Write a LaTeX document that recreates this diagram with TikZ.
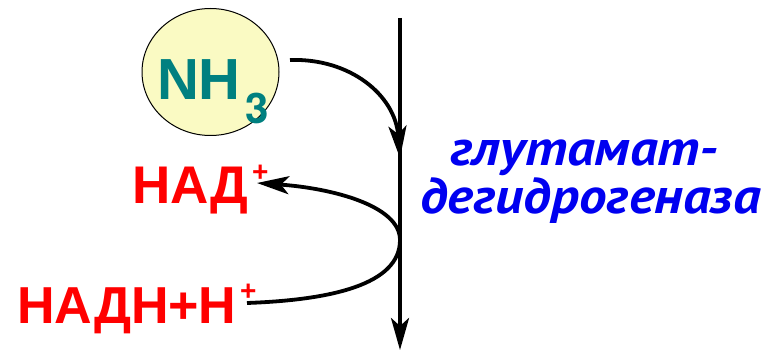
\documentclass[tikz,border=0pt]{standalone}
\usepackage{fontspec}
\setmainfont{Liberation Sans}
\newfontfamily\ptsans{PT Sans}
\newfontfamily\heros{TeX Gyre Heros}
\usetikzlibrary{arrows.meta,shapes.geometric}
\definecolor{nhteal}{RGB}{0,128,128}
\definecolor{nhfill}{RGB}{250,250,195}
\definecolor{nadred}{RGB}{255,0,0}
\definecolor{enzblue}{RGB}{0,0,240}
\tikzset{
  lbl/.style={inner sep=0pt, outer sep=0pt, anchor=base west},
  conn/.style={line width=3.8pt, -{Stealth[length=32pt,width=18pt,inset=8pt]}},
  enz/.style={lbl, text=enzblue, align=left, font=\ptsans\bfseries\itshape\fontsize{50}{38}\selectfont},
}
\begin{document}
\begin{tikzpicture}[x=1pt,y=-1pt]
\useasboundingbox (0,0) rectangle (771,350);
% NH3 ellipse
\node[draw=black, line width=1pt, fill=nhfill, ellipse, minimum width=137pt, minimum height=127pt, inner sep=0pt] (ell) at (210.5,72) {};
\node[lbl, text=nhteal, font=\bfseries\fontsize{58}{58}\selectfont] (nh) at (157,100) {NH};
\node[lbl, text=nhteal, font=\heros\bfseries\fontsize{42}{42}\selectfont] (three) at (245,124) {3};
% NAD+
\node[lbl, text=nadred, font=\bfseries\fontsize{53}{53}\selectfont] (nad) at (132,203) {НАД};
\node[lbl, text=nadred, font=\bfseries\fontsize{28}{28}\selectfont] (nadp) at (252,181) {+};
% NADH+H+
\node[lbl, text=nadred, font=\bfseries\fontsize{52}{52}\selectfont] (nadh) at (17,323) {НАДН+Н};
\node[lbl, text=nadred, font=\bfseries\fontsize{28}{28}\selectfont] (nadhp) at (240,300) {+};
% enzyme
\node[enz] (enz) at (420,213) {\hspace*{30pt}\scalebox{1.1}[1]{глутамат-}\\\scalebox{1.1}[1]{дегидрогеназа}};
% main vertical arrow
\coordinate (top) at (400,18);
\coordinate (bot) at (400,350);
\draw[conn] (top) -- (bot);
% NH3 arrow
\coordinate (nhs) at (290,60);
\coordinate (nht) at (400,158);
\draw[conn] (nhs) .. controls (350,58) and (395,95) .. (nht);
% NAD loop
\coordinate (ls) at (247,303);
\coordinate (lm) at (400,240);
\coordinate (le) at (257,183);
\draw[conn] (ls) .. controls (330,300) and (400,285) .. (lm) .. controls (400,205) and (330,188) .. (le);
\end{tikzpicture}
\end{document}
